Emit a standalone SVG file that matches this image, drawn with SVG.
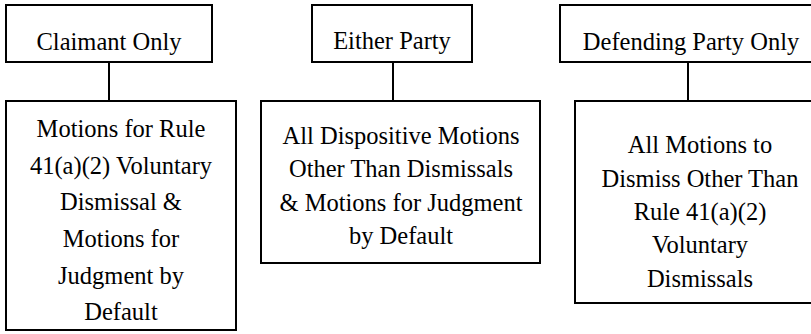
<svg xmlns="http://www.w3.org/2000/svg" width="811" height="334" viewBox="0 0 811 334">
<style>
.box{fill:#fff;stroke:#000;stroke-width:2}
.conn{stroke:#000;stroke-width:2;fill:none}
text{font-family:"Liberation Serif","Times New Roman",serif;font-size:24.5px;fill:#000;text-anchor:middle}
</style>
<rect width="811" height="334" fill="#fff"/>
<g id="connectors">
<line class="conn" x1="109" y1="62" x2="109" y2="101"/>
<line class="conn" x1="393" y1="62" x2="393" y2="101"/>
<line class="conn" x1="688" y1="62" x2="688" y2="101"/>
</g>
<g id="claimant">
<rect class="box" x="6" y="5" width="206" height="57"/>
<text x="109" y="50">Claimant Only</text>
</g>
<g id="either">
<rect class="box" x="312" y="5" width="160" height="57"/>
<text x="392" y="49">Either Party</text>
</g>
<g id="defending">
<rect class="box" x="560" y="5" width="262" height="57"/>
<text x="691" y="50">Defending Party Only</text>
</g>
<g id="claimant-motions">
<rect class="box" x="6" y="101" width="230" height="229"/>
<text x="121" y="137">Motions for Rule</text>
<text x="121" y="174">41(a)(2) Voluntary</text>
<text x="121" y="210">Dismissal &amp;</text>
<text x="121" y="247">Motions for</text>
<text x="121" y="284">Judgment by</text>
<text x="121" y="320">Default</text>
</g>
<g id="either-motions">
<rect class="box" x="261" y="101" width="279" height="162"/>
<text x="401" y="144">All Dispositive Motions</text>
<text x="401" y="177">Other Than Dismissals</text>
<text x="401" y="211">&amp; Motions for Judgment</text>
<text x="401" y="244">by Default</text>
</g>
<g id="defending-motions">
<rect class="box" x="575" y="101" width="250" height="202"/>
<text x="700" y="153">All Motions to</text>
<text x="700" y="187">Dismiss Other Than</text>
<text x="700" y="220">Rule 41(a)(2)</text>
<text x="700" y="253">Voluntary</text>
<text x="700" y="287">Dismissals</text>
</g>
</svg>
